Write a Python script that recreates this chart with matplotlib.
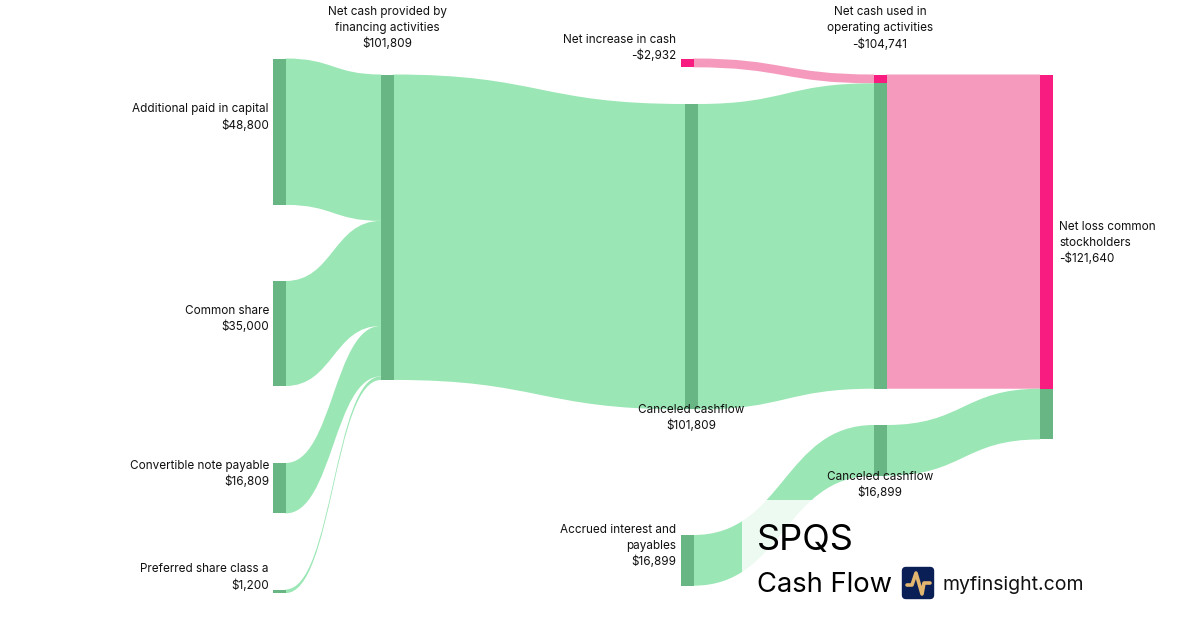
import matplotlib
matplotlib.use("Agg")
import matplotlib.pyplot as plt
from matplotlib.path import Path
from matplotlib.patches import PathPatch, Rectangle, FancyBboxPatch

plt.rcParams['font.family'] = ['Inter', 'DejaVu Sans']

GREEN_LINK = "#9ae6b4"
GREEN_NODE = "#68b684"
PINK_LINK = "#f59abc"
PINK_NODE = "#f81b80"

node_names = ["additional", "common", "convertible", "preferred", "financing",
              "canceled1", "increase", "accrued", "operating", "canceled2", "netloss"]

# links in stacking order
link_source = ["additional", "common", "convertible", "preferred", "financing",
               "canceled1", "increase", "operating", "accrued", "canceled2"]
link_target = ["financing", "financing", "financing", "financing", "canceled1",
               "operating", "operating", "netloss", "canceled2", "netloss"]
link_values = [48800, 35000, 16809, 1200, 101809, 101809, 2932, 104741, 16899, 16899]
link_kind = ["g", "g", "g", "g", "g", "g", "p", "p", "g", "g"]

# layout in pixels: left edge and top of each node
node_x = dict(additional=273, common=273, convertible=273, preferred=273, financing=381,
              canceled1=685, increase=681, accrued=681, operating=874, canceled2=874, netloss=1040)
node_top = dict(additional=58.5, common=281, convertible=463, preferred=589.5, financing=74.5,
                canceled1=104, increase=58.5, accrued=535, operating=74.5, canceled2=425, netloss=74.5)
NODE_W = 12.5
PX = 0.003

labels = [
    (269, 117.5, "right", "Additional paid in capital\n$48,800"),
    (269, 319, "right", "Common share\n$35,000"),
    (269, 474, "right", "Convertible note payable\n$16,809"),
    (269, 577.5, "right", "Preferred share class a\n$1,200"),
    (387, 28, "center", "Net cash provided by\nfinancing activities\n$101,809"),
    (676, 48, "right", "Net increase in cash\n-$2,932"),
    (691, 418, "center", "Canceled cashflow\n$101,809"),
    (676, 546, "right", "Accrued interest and\npayables\n$16,899"),
    (880, 28.5, "center", "Net cash used in\noperating activities\n-$104,741"),
    (880, 485, "center", "Canceled cashflow\n$16,899"),
    (1059, 243, "left", "Net loss common\nstockholders\n-$121,640"),
]

fig = plt.figure(figsize=(12, 6.3), dpi=100)
ax = fig.add_axes([0, 0, 1, 1])
ax.set_xlim(0, 1200)
ax.set_ylim(630, 0)
ax.axis("off")

out_used = {n: 0.0 for n in node_names}
in_used = {n: 0.0 for n in node_names}

# stack the target side: pink goes first on the operating node
segments = {n: [] for n in node_names}
order = sorted(range(len(link_values)), key=lambda k: (link_target[k] != "operating" or link_kind[k] != "p", k))
for i in order:
    s, t, v = link_source[i], link_target[i], link_values[i]
    h = v * PX
    y0 = node_top[s] + out_used[s]
    y1 = node_top[t] + in_used[t]
    out_used[s] += h
    in_used[t] += h
    xa = node_x[s] + NODE_W
    xb = node_x[t]
    xm = (xa + xb) / 2
    verts = [(xa, y0), (xm, y0), (xm, y1), (xb, y1), (xb, y1 + h), (xm, y1 + h), (xm, y0 + h), (xa, y0 + h), (xa, y0)]
    codes = [Path.MOVETO, Path.CURVE4, Path.CURVE4, Path.CURVE4, Path.LINETO,
             Path.CURVE4, Path.CURVE4, Path.CURVE4, Path.CLOSEPOLY]
    color = GREEN_LINK if link_kind[i] == "g" else PINK_LINK
    ax.add_patch(PathPatch(Path(verts, codes), fc=color, ec="none", zorder=1))
    segments[t].append((y1, h, link_kind[i]))
    if s in ("additional", "common", "convertible", "preferred", "increase", "accrued"):
        segments[s].append((y0, h, link_kind[i]))

for n in node_names:
    for y, h, kind in segments[n]:
        color = GREEN_NODE if kind == "g" else PINK_NODE
        ax.add_patch(Rectangle((node_x[n], y), NODE_W, h, fc=color, ec="none", zorder=2))

# white panel behind the title
ax.add_patch(Rectangle((742, 500), 350, 100, fc="white", ec="none", alpha=0.83, zorder=3))

for x, y, ha, txt in labels:
    ax.text(x, y, txt, ha=ha, va="center", fontsize=8.45, color="#111111", linespacing=1.41, zorder=5)

ax.text(757, 540, "SPQS", fontsize=26, va="center", ha="left", color="black", zorder=5)
ax.text(757, 585, "Cash Flow", fontsize=19.7, va="center", ha="left", color="black", zorder=5)
ax.text(942, 585, "myfinsight.com", fontsize=14, va="center", ha="left", color="#111111", zorder=5)

# logo
ax.add_patch(FancyBboxPatch((902.5, 567.5), 31, 31, boxstyle="round,pad=0,rounding_size=3.5",
                            fc="#0a1f56", ec="#0a1f56", lw=1, zorder=5))
ax.plot([907, 912, 916, 922, 924, 930], [585, 585, 573, 594, 583, 583], color="#e3b66f", lw=2.6,
        solid_joinstyle="round", solid_capstyle="round", zorder=6)

fig.savefig("out.png", dpi=100)
